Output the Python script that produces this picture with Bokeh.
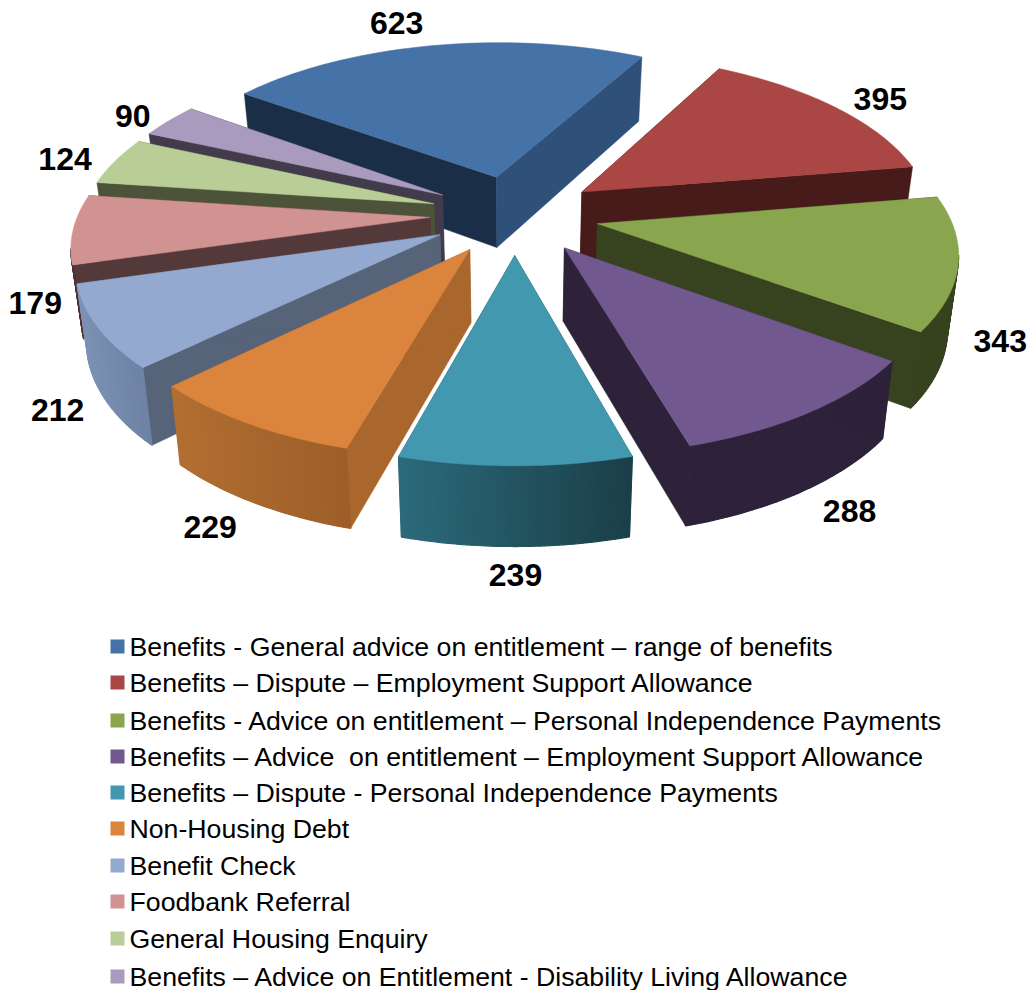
import math
from bokeh.plotting import figure
from bokeh.models import Range1d
from bokeh.core.properties import value
from bokeh.embed import file_html
from bokeh.resources import INLINE

categories = [
    "Benefits - General advice on entitlement \u2013 range of benefits",
    "Benefits \u2013 Dispute \u2013 Employment Support Allowance",
    "Benefits - Advice on entitlement \u2013 Personal Independence Payments",
    "Benefits \u2013 Advice\u00a0 on entitlement \u2013 Employment Support Allowance",
    "Benefits \u2013 Dispute - Personal Independence Payments",
    "Non-Housing Debt",
    "Benefit Check",
    "Foodbank Referral",
    "General Housing Enquiry",
    "Benefits \u2013 Advice on Entitlement - Disability Living Allowance",
]
values = [623, 395, 343, 288, 239, 229, 212, 179, 124, 90]

# style
top_colors = ["#4572a7", "#aa4643", "#89a54e", "#71588f", "#4198af",
              "#db843d", "#93a9cf", "#d19392", "#b9cd96", "#a99bbd"]
start_wall = ["#1a2e48", "#471b19", "#37421f", "#2d2239", "#24505c",
              "#a9672e", "#566379", "#533939", "#4d5338", "#423b4c"]
end_wall = ["#2f5078", "#471b19", "#37421f", "#2d2239", "#24505c",
            "#a9672e", "#566379", "#533939", "#4d5338", "#423b4c"]
rim_left = ["#2f5078", "#471b19", "#37421f", "#2d2239", "#2b6b7b",
            "#b26f32", "#7d92b4", "#4f3433", "#4d5338", "#423b4c"]
rim_right = ["#2f5078", "#471b19", "#37421f", "#2d2239", "#1b3f48",
             "#9d5e29", "#6d82a4", "#4f3433", "#4d5338", "#423b4c"]
label_dx = [-36, 45, 42, 40, 0, -38, -40, -38, -50, -36]
label_dy = [-23, -8, 77, 99, 109, 103, 83, 74, -2, -5]
legend_y = [646, 682, 720, 756, 792, 828, 865, 901, 938, 976]

# projection of the tilted pie
CX, CY, A, B, P = 514, 214, 352, 165, 0.15
DEPTH, DEPTH_SLOPE, SHRINK = 72, 7, 0.975
START, EXPLODE = -54.0, 0.24
W, H = 1032, 990


def project(u, v):
    w = 1 + P * v
    return CX + A * u / w, CY - B * v / w


def drop(u, v):
    x, y = project(u, v)
    return CX + (x - CX) * SHRINK, y + DEPTH - DEPTH_SLOPE * v


def mix(c1, c2, t):
    a = [int(c1[i:i + 2], 16) for i in (1, 3, 5)]
    b = [int(c2[i:i + 2], 16) for i in (1, 3, 5)]
    return "#%02x%02x%02x" % tuple(round(p + (q - p) * t) for p, q in zip(a, b))


p = figure(width=W, height=H, x_range=Range1d(0, W), y_range=Range1d(H, 0),
           output_backend="svg", toolbar_location=None, min_border=0,
           background_fill_color="white", border_fill_color="white",
           outline_line_color=None)
p.xaxis.visible = False
p.yaxis.visible = False
p.grid.visible = False

total = sum(values)
slices = []
acc = START
for i, val in enumerate(values):
    sweep = val / total * 360
    slices.append((i, acc, acc + sweep))
    acc += sweep

lab_x, lab_y = [], []
for i, a0, a1 in slices:
    m = math.radians((a0 + a1) / 2)
    ru = (1 + EXPLODE) * math.sin(m)
    rv = (1 + EXPLODE) * math.cos(m)
    x, y = project(ru, rv)
    lab_x.append(x)
    lab_y.append(y)

for i, a0, a1 in sorted(slices, key=lambda s: -math.cos(math.radians((s[1] + s[2]) / 2))):
    m = math.radians((a0 + a1) / 2)
    ax, ay = EXPLODE * math.sin(m), EXPLODE * math.cos(m)
    n = 48
    pts = [(ax + math.sin(math.radians(a0 + (a1 - a0) * k / n)),
            ay + math.cos(math.radians(a0 + (a1 - a0) * k / n))) for k in range(n + 1)]
    xs, ys, cols = [], [], []

    def quad(q1, q2, col):
        t1, t2 = project(*q1), project(*q2)
        b2, b1 = drop(*q2), drop(*q1)
        xs.append([t1[0], t2[0], b2[0], b1[0]])
        ys.append([t1[1], t2[1], b2[1], b1[1]])
        cols.append(col)

    quad((ax, ay), pts[0], start_wall[i])
    quad((ax, ay), pts[-1], end_wall[i])
    p.patches(xs, ys, fill_color=cols, line_color=cols, line_width=0.5)

    xs, ys, cols = [], [], []
    scr = [project(*q) for q in pts]
    lo, hi = min(s[0] for s in scr), max(s[0] for s in scr)
    for k in range(n):
        if scr[k + 1][0] < scr[k][0]:
            t = (hi - scr[k][0]) / max(hi - lo, 1)
            quad(pts[k], pts[k + 1], mix(rim_right[i], rim_left[i], t))
    if xs:
        p.patches(xs, ys, fill_color=cols, line_color=cols, line_width=1.2)

    top = [project(ax, ay)] + scr
    p.patch([q[0] for q in top], [q[1] for q in top],
            fill_color=top_colors[i], line_color=top_colors[i], line_width=0.5)

p.text(lab_x, lab_y, text=[str(v) for v in values], x_offset=label_dx, y_offset=label_dy,
       text_font=value("Liberation Sans"), text_font_style="bold", text_font_size="32px",
       text_color="#000000", text_align="center", text_baseline="middle")

p.rect([117] * len(categories), legend_y, width=14, height=14,
       fill_color=top_colors, line_color=None)
p.text([129] * len(categories), legend_y, text=categories,
       text_font=value("Liberation Sans"), text_font_size="26.7px",
       text_color="#000000", text_align="left", text_baseline="middle")

open("out.html", "w").write(file_html(p, INLINE))
